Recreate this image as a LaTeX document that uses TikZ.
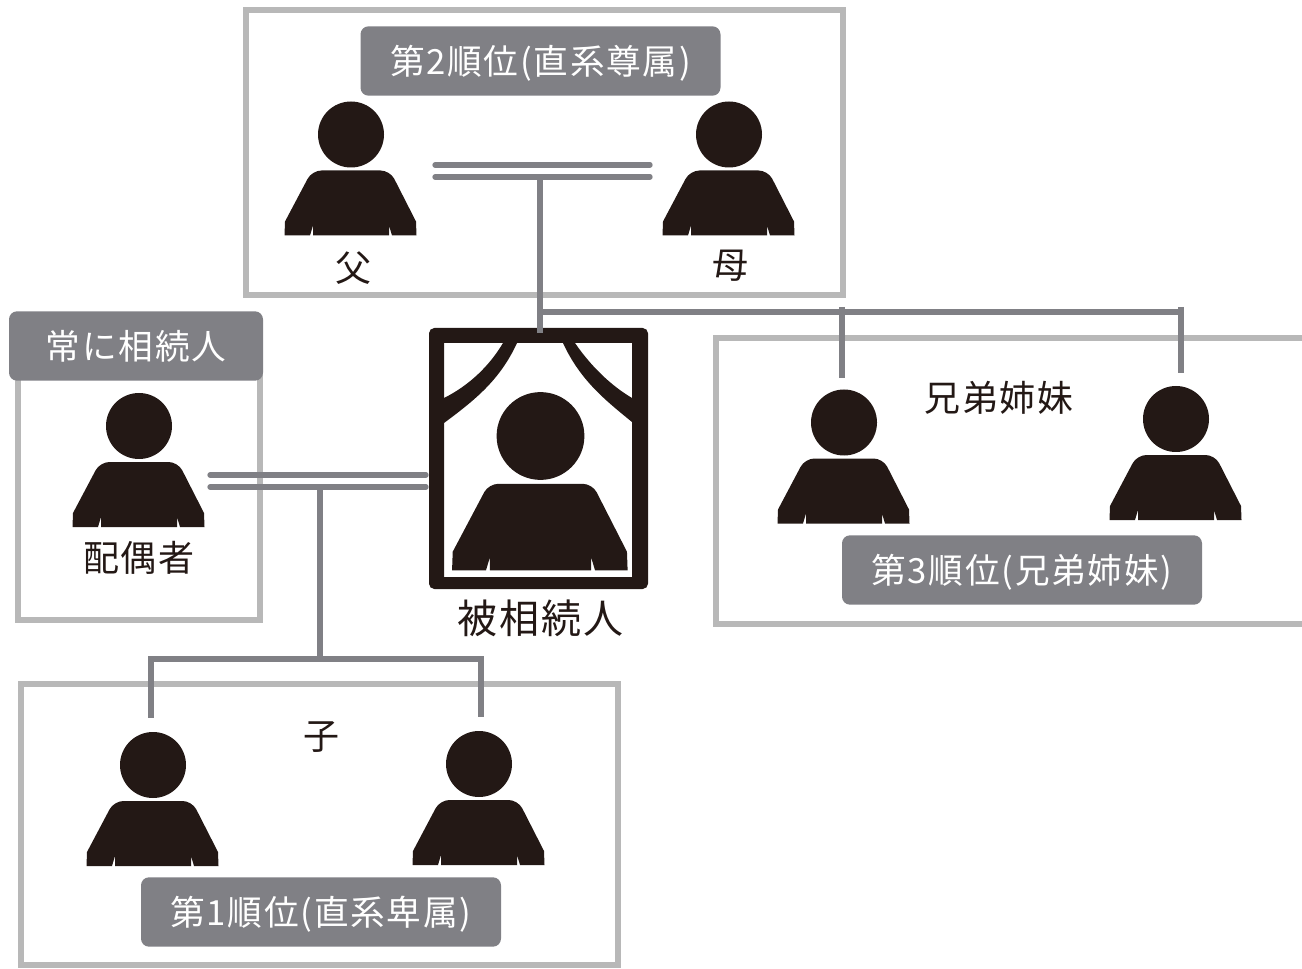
\documentclass[tikz,border=0pt]{standalone}
\usepackage{fontspec}
\setmainfont{Noto Sans CJK JP}[LetterSpace=5]
\def\secondbox{(246,10) rectangle (843,295)}
\def\spousebox{(18,345) rectangle (260,620)}
\def\firstbox{(21,684) rectangle (618,965)}
\def\thirdbox{(1302,338) -| (716,624) -- (1302,624)}
\colorlet{frame edge}{black!28}
\definecolor{link gray}{RGB}{128,128,133}
\definecolor{ink}{RGB}{35,24,21}
\tikzset{
  outline/.style={draw=frame edge, line width=5pt},
  link/.style={draw=link gray, line width=4pt},
  double link/.style={draw=link gray, line width=4pt, line cap=round},
  rank/.style={fill=link gray, text=white, rounded corners=6pt, inner sep=0pt,
    minimum width=270pt, minimum height=52pt, text height=19.8pt, text depth=0pt,
    font=\fontsize{26}{26}\selectfont},
  kin/.style={text=ink, inner sep=0pt, font=\fontsize{27}{27}\selectfont},
  person/.pic={
    \fill[ink] (0,0) circle (33);
    \fill[ink] (-66.5,101) -- (-66,87) [rounded corners=7pt] -- (-39,36) -- (39,36)
      [sharp corners] -- (65,87) -- (65.5,101) -- (41,101) -- (38,91) -- (38,101)
      -- (-38,101) -- (-38,91) -- (-41,101) -- cycle;
  }
}
\begin{document}
\begin{tikzpicture}[x=0.75pt, y=-0.75pt]
    \useasboundingbox (0,0) rectangle (1302,969);
    \draw[outline] \secondbox;
    \draw[outline] \spousebox;
    \draw[outline] \firstbox;
    \draw[outline] \thirdbox;
    % portrait of the deceased
    \fill[ink, rounded corners=4pt, even odd rule] (429,328) rectangle (648,589)
      [sharp corners] (444,343) rectangle (632,577);
    \fill[ink] (503,343) -- (517,343) .. controls (500,380) and (475,400) .. (444,423)
      -- (444,398) .. controls (470,385) and (490,365) .. (503,343) -- cycle;
    \fill[ink] (563,343) -- (575,343) .. controls (590,365) and (610,385) .. (632,398)
      -- (632,422) .. controls (605,400) and (580,380) .. (563,343) -- cycle;
    \pic at (540.5,436) [scale=1.33] {person};
    \node[kin, font=\fontsize{30}{30}\selectfont] (deceased) at (540,618) {被相続人};
    % people
    \pic at (351,134.5) {person};
    \pic at (729,134.5) {person};
    \pic at (139,426) {person};
    \pic at (844,422.5) {person};
    \pic at (1176,419) {person};
    \pic at (153,765) {person};
    \pic at (479,764) {person};
    \node[kin] (father) at (353,268) {父};
    \node[kin] (mother) at (730,266) {母};
    \node[kin] (spouse) at (139,558) {配偶者};
    \node[kin] (siblings) at (999,398) {兄弟姉妹};
    \node[kin] (child) at (321,737) {子};
    % ranks
    \node[rank] (second) at (540.5,61) {第2順位(直系尊属)};
    \node[rank, minimum width=190.5pt] (always) at (136,346) {常に相続人};
    \node[rank] (third) at (1022,570) {第3順位(兄弟姉妹)};
    \node[rank] (first) at (321,912) {第1順位(直系卑属)};
    % connectors
    \coordinate (parentsL) at (435,165);
    \coordinate (parentsR) at (650,165);
    \coordinate (parentsLL) at (435,177);
    \coordinate (parentsRR) at (650,177);
    \coordinate (parentsM) at (540,177);
    \coordinate (deceasedT) at (540,333);
    \coordinate (sibBus) at (540,312);
    \coordinate (sibEnd) at (1181,312);
    \coordinate (sibTopA) at (842,307);
    \coordinate (sibTopB) at (1181,307);
    \coordinate (sibA) at (842,378);
    \coordinate (sibB) at (1181,373);
    \coordinate (marryL) at (210,475);
    \coordinate (marryR) at (426,475);
    \coordinate (marryLL) at (210,487);
    \coordinate (marryRR) at (426,487);
    \coordinate (marryM) at (320,487);
    \coordinate (childBus) at (320,659);
    \coordinate (childA) at (151,718);
    \coordinate (childB) at (481,717);
    \draw[double link] (parentsL) -- (parentsR);
    \draw[double link] (parentsLL) -- (parentsRR);
    \draw[link] (parentsM) -- (deceasedT);
    \draw[link] (sibBus) -- (sibEnd);
    \draw[link] (sibTopA) -- (sibA);
    \draw[link] (sibTopB) -- (sibB);
    \draw[double link] (marryL) -- (marryR);
    \draw[double link] (marryLL) -- (marryRR);
    \draw[link] (marryM) -- (childBus);
    \draw[link] (childBus) -| (childA);
    \draw[link] (childBus) -| (childB);
  \end{tikzpicture}
\end{document}
